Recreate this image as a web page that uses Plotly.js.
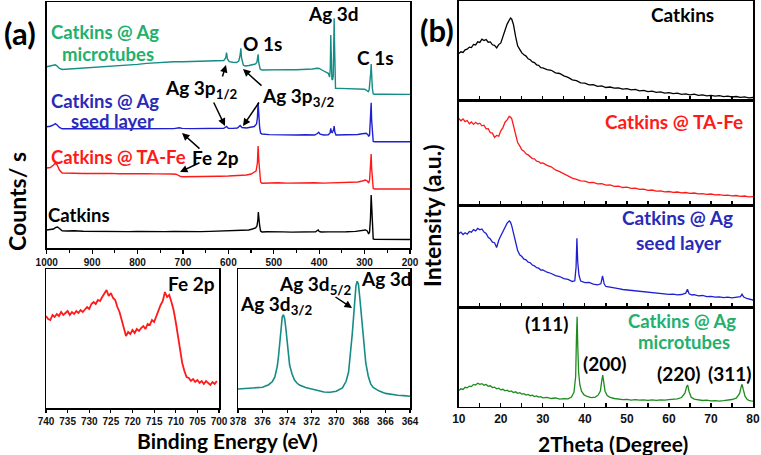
<!DOCTYPE html>
<html>
<head>
<meta charset="utf-8">
<script src="https://cdn.plot.ly/plotly-3.0.1.min.js"></script>
<style>html,body{margin:0;padding:0;background:#fff;}#chart{width:761px;height:455px;}</style>
</head>
<body>
<div id="chart"></div>
<script>
// ---------- (a) XPS survey spectra: binding energy (eV) vs counts (a.u., stacked) ----------
const surveyCatkinsE = [1000,992,985,980,976,972,966,955,940,920,900,880,860,840,820,800,780,760,740,720,700,680,660,640,620,600,580,565,555,547,540,537,535,534,533,531,529,526,515,500,480,460,440,420,408,404,402,400,396,380,360,340,320,305,298,294,291,289,287,285.5,284.5,283,281,278,260,240,220,200];
const surveyCatkins  = [18,18.2,19,20.5,21,19.5,17.2,17,17.3,16.8,16.6,16.9,16.5,16.7,16.4,16.6,16.3,16.5,16.4,16.6,16.3,16.5,16.4,16.6,16.8,17,17.2,17.5,18,19,20,22,28,36,30,22,17,16,16.2,15.9,16.1,15.9,16,15.8,16.2,17.5,18,16.5,16,16.1,16,16.2,16.6,17.5,18,17,14,16,30,53,38,20,9,8.6,8.5,8.6,8.5,8.5];

const surveyTaFeE = [1000,992,985,981,977,972,966,955,940,920,900,880,860,840,820,800,780,760,740,725,715,710,705,700,680,660,640,620,600,580,560,550,544,539,536,534.5,533,531,529,526,510,490,470,450,430,410,390,370,350,330,315,305,298,294,291,289,287,285.5,284.5,283,281,278,260,240,220,200];
const surveyTaFe  = [80,80.5,83,85,83,78,75,74.6,74.8,74.5,74.7,74.4,74.6,74.3,74.5,74.2,74.4,74.1,74.3,74,73.8,72.5,71.5,71.3,71.6,71.4,71.7,71.8,72,72.4,73,74,75.5,77,85,102,88,72,66,64.7,65,65.2,64.9,65.1,65,65.2,64.9,65.1,65,65.3,66,67,68,67,65,68,80,94,80,65,59.5,59,59,59.1,58.9,59];

const surveySeedE = [1000,992,985,981,977,972,966,955,940,920,900,880,860,840,820,800,780,760,740,720,708,702,680,660,640,620,610,604,600,590,580,574,570,560,550,543,538,536,534.5,533,531,529,526,510,490,470,450,430,410,404,401,398,390,380,376,374.5,373,371,368.5,367,365.5,363,350,330,315,305,297,293,291,289,287,285.5,284.5,283,281,278,260,240,220,200];
const surveySeed  = [121.3,121.8,123,124.3,123,120.5,119.2,119.4,119.6,119.3,119.5,119.2,119.4,119.1,119.3,119.2,119.4,119.1,119.3,119.4,120.3,119.6,119.4,119.6,119.3,119.5,119.7,121.5,119.8,119.6,120,122.5,120.5,120,120.5,121.5,124,130,145.3,132,120,115,114,113.4,113.1,113.3,113,113.2,113,114.5,115.7,113.8,113,113.2,115,119.7,116,115.5,118,122,116,113,113,113.1,113.5,114.2,114.7,113.5,111.5,113,128,145.3,128,112,106.5,106.3,106.3,106.2,106.4,106.3];

const surveyTubesE = [1000,992,985,981,977,972,966,955,940,920,900,880,860,840,820,800,780,760,745,730,720,700,680,660,640,620,610,606,604,602,598,590,582,577,574,572.5,571,567,563,555,545,540,537,535.5,534.5,533,530,526,510,490,470,450,430,415,405,400,392,385,380,377,375.5,374.5,373.5,372,370.5,369,368,367,366,365,364,355,340,325,310,300,295,292,290,288,286.5,285.5,284.5,283,281,278,260,240,220,200];
const surveyTubes  = [181.3,181.8,182.5,183.2,182,179.5,178.5,178.8,179.3,179.8,180.3,180.8,181.6,182.3,183,183.6,184.6,185.3,185.1,185.8,186.3,186.2,186.6,186.5,186.9,187.1,187.5,190,195.3,189,186.3,185.8,185.5,187,193,199.7,190,183,182,182.5,183,184,186,190,193.7,185,179,178,178.3,178.1,178.4,178.2,178.5,179,179.7,179.5,177.5,176,174.7,171,180,213,185,169,168,172,200,229.7,200,172,159.7,159.6,159.4,159.5,159.3,158.7,157.5,156.3,158,165,175,184,172,160,154,153.7,153.8,153.6,153.7,153.6];

// ---------- (a) high-resolution Fe 2p ----------
const fe2pE = [740,739.5,739,738.5,738,737.5,737,736.5,736,735.5,735,734.5,734,733.5,733,732.5,732,731.5,731,730.5,730,729.5,729,728.5,728,727.5,727,726.5,726,725.5,725,724.5,724,723.5,723,722.5,722,721.5,721,720.5,720,719.5,719,718.5,718,717.5,717,716.5,716,715.5,715,714.5,714,713.5,713,712.5,712,711.5,711,710.5,710,709.5,709,708.5,708,707.5,707,706.5,706,705.5,705,704.5,704,703.5,703,702.5,702,701.5,701,700.5];
const fe2pI = [92,89,88,93,91,94,92,96,93,95,97,93,96,94,97,95,98,96,99,101,99,104,106,104,108,107,111,114,118,112,115,110,108,101,96,88,80,72,76,74,78,75,79,77,80,82,79,84,83,88,86,92,97,103,107,116,111,113,106,98,86,72,58,45,37,31,30,27,29,26,28,25,27,24,27,25,23,26,24,27];

// ---------- (a) high-resolution Ag 3d ----------
const ag3dE = [378,377.5,377,376.5,376,375.5,375.2,375,374.8,374.7,374.6,374.5,374.4,374.3,374.2,374.1,374,373.9,373.8,373.6,373.4,373.2,373,372.5,372,371.5,371,370.5,370,369.5,369.2,369,368.8,368.7,368.6,368.5,368.4,368.3,368.2,368.1,368,367.9,367.8,367.7,367.6,367.4,367.2,367,366.5,366,365.5,365,364.5,364];
const ag3dI = [19,19.5,19.3,20,20.7,23.3,26.5,31,42,52,65,80,91,93.3,89,79,66,52,43,34,28,25,23,20.5,18.8,17.5,16,15.8,16.7,20,26.7,36,58,74,90,108,122,126.7,124,112,98,82,68,55,45,32,24,20.5,16.9,14.6,13.5,12.8,12.4,11.7];

// ---------- (b) XRD patterns: 2theta (degree) vs intensity (a.u.) ----------
const xrdCatkinsT = [10,10.5,11,11.5,12,12.5,13,13.5,14,14.5,15,15.5,16,16.5,17,17.5,18,18.5,19,19.5,20,20.5,21,21.5,22,22.3,22.6,23,23.5,24,24.5,25,25.5,26,26.5,27,27.5,28,28.5,29,29.5,30,31,32,33,34,35,36,37,38,39,40,41,42,43,44,45,46,47,48,49,50,51,52,53,54,55,56,57,58,59,60,61,62,63,64,65,66,67,68,69,70,71,72,73,74,75,76,77,78,79,80];
const xrdCatkins  = [46.5,48.2,47.6,50.1,50.8,52.9,52.4,55.6,55.1,58.2,57.6,60.9,59.4,60.5,57.8,58.1,55.2,54.6,52.1,55.4,57.1,62.5,69.8,75.9,80.2,82,80.8,75.5,63.8,54.2,50.6,47.1,45.3,43.9,41.2,40.3,38.1,37.4,35.2,34.6,32.3,32.1,30.4,29.7,27.1,26.5,24.2,22.6,20.1,19.3,17.2,16.8,15.1,15.4,13.6,14.1,12.5,13,11.8,12.2,10.9,11.3,10.2,10.6,9.1,9.6,8.4,8.9,7.6,8.1,6.9,7.4,6.3,6.8,5.6,6.1,5.2,5.8,4.7,5.2,4.1,4.6,3.8,4.3,3.4,3.9,3,3.5,2.6,3.1,2.2,2.5];

const xrdTaFeT = xrdCatkinsT;
const xrdTaFe  = [86.5,84.2,86.1,83.4,84.5,81.2,83.1,80.6,82.7,80.9,81.8,79.2,79.8,76.1,76.4,72.3,71.9,67.6,69.5,68.8,74.2,77.4,82.8,85.1,88.6,87.9,86.2,79.8,71.2,62.5,59.1,55.3,53.8,51.2,50.1,48.6,46.4,46.1,43.9,43.5,41.8,42.1,39.6,38.2,35.1,33.4,31.2,29.5,26.8,25.6,24.1,23.8,22.4,22.6,21.1,21.3,19.8,20.1,18.7,18.9,17.5,17.8,16.6,16.9,15.6,15.8,14.7,15,13.9,14.2,13.1,13.5,12.6,13,12.1,12.5,11.6,12,11.1,11.4,10.6,11,10.1,10.4,9.6,9.9,9.1,9.5,8.7,9,8.1,8.4];

const xrdSeedT = [10,10.5,11,11.5,12,12.5,13,13.5,14,14.5,15,15.5,16,16.5,17,17.5,18,18.5,19,19.5,20,20.5,21,21.5,22,22.3,22.6,23,23.5,24,24.5,25,25.5,26,26.5,27,27.5,28,28.5,29,29.5,30,31,32,33,34,35,36,37,37.6,37.9,38.1,38.3,38.6,39,40,41,42,43,43.8,44.2,44.6,45,46,47,48,49,50,51,52,53,54,55,56,57,58,59,60,61,62,63,64,64.4,64.8,65.5,66,67,68,69,70,71,72,73,74,75,76,77,77.4,77.8,78.5,79,80];
const xrdSeed  = [73.5,75.2,72.8,74.6,73.1,75.8,75.1,77.6,76.4,78.9,77.5,78.3,75.2,73.9,70.1,68.4,65.2,64.6,59.8,67.1,71.5,76.2,80.1,84.2,86.3,85.1,81.4,73.6,64.2,56.8,52.5,50.8,48.1,47.4,45.2,44.6,42.3,41.5,39.6,39.1,37.2,37.4,35.1,33.8,31.6,30.8,28.6,27.9,25.8,26.5,40,69,45,32,26.2,24.6,24.9,23.1,22.4,23.5,31.3,23.2,20.8,20.3,19.1,18.6,17.8,17.4,16.9,16.1,15.8,15.2,15.4,14.3,14.6,13.5,13.8,12.9,13.2,12.4,12.8,14.2,18,13.5,12.3,12.6,11.4,11.8,10.6,11,10.1,10.5,9.7,10.2,9.4,9.8,10.6,13,10.2,8.8,8.3,7.3];

const xrdTubesT = [10,10.5,11,11.5,12,12.5,13,13.5,14,14.5,15,15.5,16,16.5,17,17.5,18,18.5,19,19.5,20,20.5,21,21.5,22,22.5,23,23.5,24,24.5,25,25.5,26,26.5,27,27.5,28,28.5,29,29.5,30,31,32,33,34,35,36,36.8,37.4,37.8,38,38.15,38.3,38.5,38.8,39.2,39.8,40.5,41.5,42.5,43.2,43.7,44.05,44.25,44.5,44.8,45.3,46,47,48,49,50,51,52,53,54,55,56,57,58,59,60,61,62,63,63.8,64.2,64.45,64.8,65.3,66,67,68,69,70,71,72,73,74,75,76,76.8,77.2,77.4,77.7,78.1,78.6,79,79.5,80];
const xrdTubes  = [16.2,17.9,17.3,19.4,18.8,20.6,20.1,22.3,21.6,23.5,22.4,23.1,21.5,22.2,20.4,20.9,19.1,19.6,17.9,18.5,16.8,17.4,15.9,16.6,15.1,15.8,14.2,14.9,13.4,14,12.6,13.1,11.7,12.3,11,11.6,10.2,10.8,9.6,10.1,8.9,9.4,8.2,8.7,7.5,8.1,7.9,9.6,14.5,30,70,90,62,35,22,15.5,11.8,10.2,9.1,9.6,11.8,16,27,31.7,24,15.5,11.2,9.3,8.2,7.6,7.1,7.4,6.6,7,6.5,6.9,6.3,6.8,6.4,6.9,6.5,7,7.1,7.8,9.2,13.5,20,21.7,15,9.5,7.6,6.8,6.2,6.6,5.9,6.1,5.6,6,6.5,7.2,8.6,13,20,22.4,17,10.5,7.4,6.3,5.9,5.6];

// ---------- labels ----------
const surveyTicks = [1000,900,800,700,600,500,400,300,200];

// ---------- styling ----------
const FONT = "Lato, 'Open Sans', sans-serif";
const TICKFONT = {family: "'Liberation Sans', Arial, sans-serif", size: 10, color: '#111', weight: 'bold'};
const TEAL = '#158c85', LGREEN = '#22b06c', BLUE = '#1f1fd2', BLUETXT = '#2a2ab8', RED = '#ff1a1a', XGREEN = '#1d8b1d';
const W = 761, H = 455;
const px = (x) => x / W, py = (y) => 1 - y / H;

function line(x, y, color, xa, ya, width) {
  return {x: x, y: y, type: 'scatter', mode: 'lines', xaxis: xa, yaxis: ya,
          line: {color: color, width: width || 1.4}, hoverinfo: 'skip'};
}

const traces = [
  line(surveyCatkinsE, surveyCatkins, '#000', 'x', 'y'),
  line(surveyTaFeE, surveyTaFe, RED, 'x', 'y'),
  line(surveySeedE, surveySeed, BLUE, 'x', 'y'),
  line(surveyTubesE, surveyTubes, TEAL, 'x', 'y'),
  line(fe2pE, fe2pI, RED, 'x2', 'y2', 1.8),
  line(ag3dE, ag3dI, TEAL, 'x3', 'y3', 1.6),
  line(xrdCatkinsT, xrdCatkins, '#000', 'x4', 'y4', 1.3),
  line(xrdTaFeT, xrdTaFe, RED, 'x5', 'y5', 1.3),
  line(xrdSeedT, xrdSeed, BLUE, 'x6', 'y6', 1.3),
  line(xrdTubesT, xrdTubes, XGREEN, 'x7', 'y7', 1.3)
];

const frame = {showline: true, mirror: true, linecolor: '#000', linewidth: 1.5, showgrid: false, zeroline: false};
function yax(domain, range) {
  return Object.assign({}, frame, {domain: domain, range: range, ticks: '', showticklabels: false, fixedrange: true});
}
const xrdDomain = [px(458.8), px(753)];
function xrdX(anchor, labels) {
  return Object.assign({}, frame, {domain: xrdDomain, range: [10, 80], anchor: anchor,
    tick0: 0, dtick: 10, ticks: 'inside', ticklen: 4, tickwidth: 1.2, tickcolor: '#000',
    minor: {dtick: 5, ticks: 'inside', ticklen: 4, tickwidth: 1.2, tickcolor: '#000'},
    showticklabels: labels, tickfont: Object.assign({}, TICKFONT, {size: 12})});
}

const layout = {
  width: W, height: H, margin: {l: 0, r: 0, t: 0, b: 0},
  paper_bgcolor: '#fff', plot_bgcolor: '#fff', showlegend: false,
  font: {family: FONT, color: '#000'},
  xaxis: Object.assign({}, frame, {domain: [px(46.7), px(410)], range: [1000, 200], anchor: 'y',
    tickvals: surveyTicks, ticks: 'outside', ticklen: 4, tickwidth: 1.2, tickcolor: '#000',
    minor: {dtick: 50, ticks: 'outside', ticklen: 3, tickwidth: 1.2, tickcolor: '#000'}, tickfont: TICKFONT}),
  yaxis: yax([py(248), py(2)], [0, 246]),
  xaxis2: Object.assign({}, frame, {domain: [px(46), px(219)], range: [740, 700], anchor: 'y2',
    dtick: 5, ticks: 'outside', ticklen: 3, tickwidth: 1.2, tickcolor: '#000', tickfont: TICKFONT}),
  yaxis2: Object.assign(yax([py(408), py(269)], [0, 139]), {anchor: 'x2'}),
  xaxis3: Object.assign({}, frame, {domain: [px(238), px(410)], range: [378, 364], anchor: 'y3',
    dtick: 2, ticks: 'outside', ticklen: 3, tickwidth: 1.2, tickcolor: '#000', tickfont: TICKFONT}),
  yaxis3: Object.assign(yax([py(408), py(269)], [0, 139]), {anchor: 'x3'}),
  xaxis4: xrdX('y4', false), yaxis4: Object.assign(yax([py(100), py(1)], [0, 99]), {anchor: 'x4'}),
  xaxis5: xrdX('y5', false), yaxis5: Object.assign(yax([py(205), py(100)], [0, 105]), {anchor: 'x5'}),
  xaxis6: xrdX('y6', false), yaxis6: Object.assign(yax([py(307.3), py(205)], [0, 102.3]), {anchor: 'x6'}),
  xaxis7: xrdX('y7', true),  yaxis7: Object.assign(yax([py(406.7), py(307.3)], [0, 99.4]), {anchor: 'x7'}),
  annotations: []
};

function label(text, x, y, color, size, extra) {
  layout.annotations.push(Object.assign({text: text, xref: 'paper', yref: 'paper', x: px(x), y: py(y),
    xanchor: 'center', yanchor: 'middle', showarrow: false,
    font: {family: FONT, size: size || 19, color: color || '#000', weight: 'bold'}}, extra || {}));
}
function arrow(hx, hy, ax, ay) {
  layout.annotations.push({text: '', xref: 'paper', yref: 'paper', x: px(hx), y: py(hy), ax: ax, ay: ay,
    showarrow: true, arrowhead: 2, arrowsize: 1, arrowwidth: 1.5, arrowcolor: '#000', standoff: 0});
}

// panel letters and axis titles
label('(a)', 20, 33, '#000', 31);
label('(b)', 437, 30, '#000', 31);
label('Counts/ s', 17, 202, '#000', 23, {textangle: -90});
label('Binding Energy (eV)', 227, 440, '#000', 21);
label('Intensity (a.u.)', 432, 216, '#000', 23, {textangle: -90});
label('2Theta (Degree)', 613, 443, '#000', 21);

// (a) survey labels
label('Catkins @ Ag', 105, 32, LGREEN, 18.5);
label('microtubes', 108, 54, LGREEN, 18.5);
label('Catkins @ Ag', 105, 101, BLUETXT, 18.5);
label('seed layer', 112, 121, BLUETXT, 18.5);
label('Catkins @ TA-Fe', 118, 157, RED, 18.5);
label('Catkins', 79, 215, '#000', 18.5);
label('O 1s', 262, 43);
label('Ag 3d', 333, 13);
label('C 1s', 375, 58);
label('Ag 3p<sub>1/2</sub>', 202, 89);
label('Ag 3p<sub>3/2</sub>', 298, 97);
label('Fe 2p', 215, 157);
arrow(226, 65, -4, 13);
arrow(225, 126, -12, -25);
arrow(243, 69, 20, 18);
arrow(243, 126, 17, -25);
arrow(182, 133, 19, 17);
arrow(180, 172, 21, -10);

// (a) high-resolution labels
label('Fe 2p', 192, 283);
label('Ag 3d', 386, 278);
label('Ag 3d<sub>5/2</sub>', 315, 285);
label('Ag 3d<sub>3/2</sub>', 276, 305);
arrow(352, 308, -18, -12);

// (b) labels
label('Catkins', 682, 15);
label('Catkins @ TA-Fe', 674, 122, RED);
label('Catkins @ Ag', 677, 217, BLUETXT);
label('seed layer', 679, 242, BLUETXT);
label('Catkins @ Ag', 682, 321, LGREEN, 18.5);
label('microtubes', 684, 342, LGREEN, 18.5);
label('(111)', 547, 323);
label('(200)', 605, 363);
label('(220)', 679, 373);
label('(311)', 730, 373);

Plotly.newPlot('chart', traces, layout, {staticPlot: true, displayModeBar: false});
</script>
</body>
</html>
